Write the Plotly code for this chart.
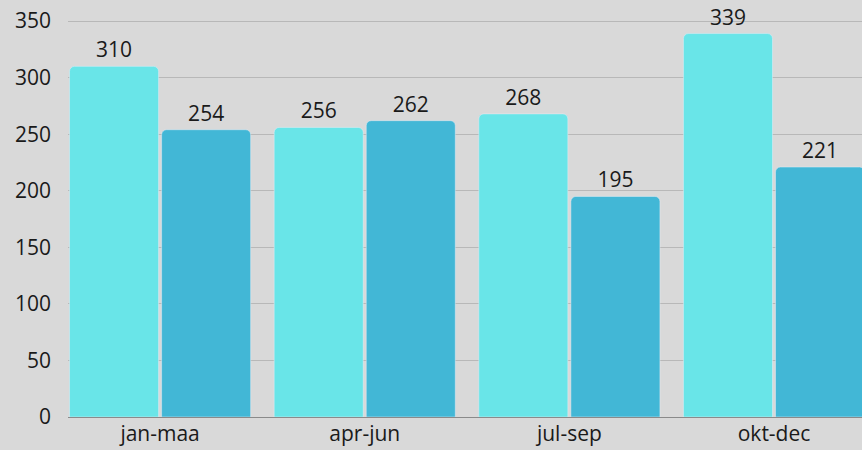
import plotly.graph_objects as go

categories = ["jan-maa", "apr-jun", "jul-sep", "okt-dec"]
series_a = [310, 256, 268, 339]
series_b = [254, 262, 195, 221]

label_font = dict(color="#1a1a1a", size=21, family="Open Sans, sans-serif")

fig = go.Figure()
fig.add_trace(go.Bar(x=categories, y=series_a, marker_color="#69e5e8",
                     text=series_a, textposition="outside", cliponaxis=False,
                     textfont=label_font))
fig.add_trace(go.Bar(x=categories, y=series_b, marker_color="#42b7d6",
                     text=series_b, textposition="outside", cliponaxis=False,
                     textfont=label_font))

fig.update_layout(
    width=862, height=450,
    margin=dict(l=68, r=0, t=20, b=33),
    paper_bgcolor="#d9d9d9", plot_bgcolor="#d9d9d9",
    barmode="group", bargap=0.1, bargroupgap=0.033,
    barcornerradius=5,
    showlegend=False,
    font=dict(family="Open Sans, sans-serif", size=21, color="#1a1a1a"),
    xaxis=dict(type="category", range=[-0.45, 3.43], showgrid=False,
               ticks="", tickfont=dict(size=21), ticklabelstandoff=2),
    yaxis=dict(range=[0, 351], tickvals=[0, 50, 100, 150, 200, 250, 300, 350],
               showgrid=True, gridcolor="#b8b8b8",
               gridwidth=1, zeroline=True, zerolinecolor="#8a8a8a", zerolinewidth=1,
               ticks="", tickfont=dict(size=21), ticklabelstandoff=16),
)
fig.write_html("out.html", config={"displayModeBar": False},
               post_script="document.body.style.margin='0';document.body.style.padding='0';")
